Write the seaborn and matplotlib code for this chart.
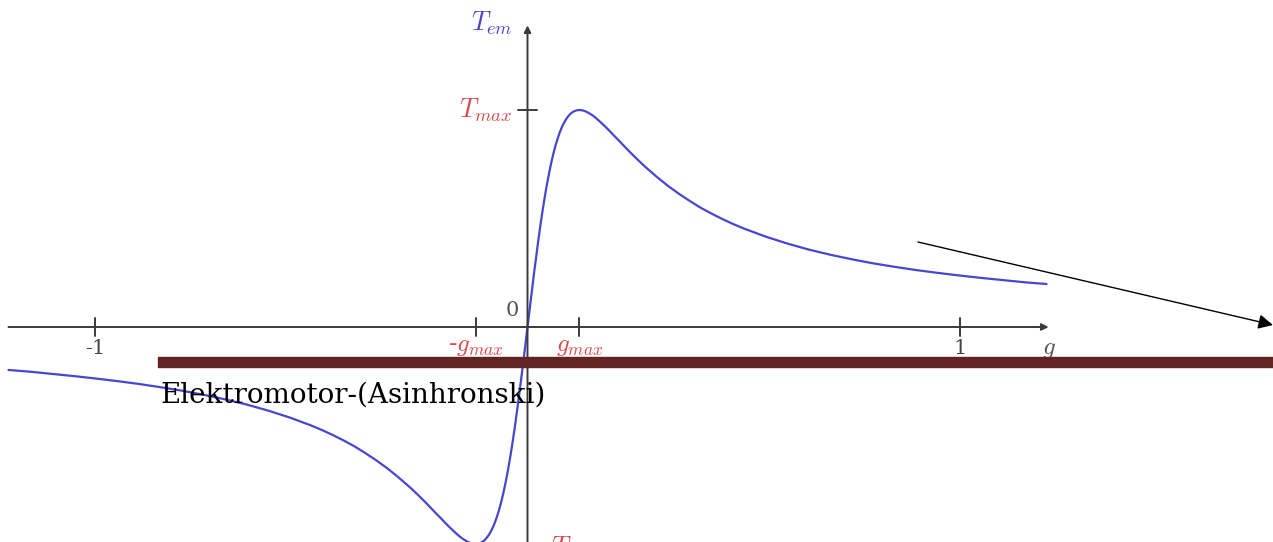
import matplotlib
matplotlib.use("Agg")
import matplotlib.pyplot as plt
import seaborn as sns
import pandas as pd

# Slip (g) and electromagnetic torque (T_em / T_max), motoring branch (g >= 0)
slip_pos = [0.000, 0.005, 0.010, 0.015, 0.020, 0.025, 0.030, 0.035, 0.040,
            0.045, 0.050, 0.055, 0.060, 0.065, 0.070, 0.075, 0.080, 0.085,
            0.090, 0.095, 0.100, 0.105, 0.110, 0.115, 0.120, 0.125, 0.130,
            0.135, 0.140, 0.145, 0.150, 0.155, 0.160, 0.170, 0.180, 0.190,
            0.200, 0.210, 0.220, 0.230, 0.250, 0.270, 0.300, 0.325, 0.350,
            0.375, 0.400, 0.425, 0.450, 0.475, 0.500, 0.550, 0.600, 0.650,
            0.700, 0.750, 0.800, 0.850, 0.900, 0.950, 1.000, 1.050, 1.100,
            1.150, 1.200]
torque_pos = [0.000, 0.083, 0.166, 0.246, 0.324, 0.399, 0.471, 0.538, 0.600,
              0.658, 0.710, 0.758, 0.800, 0.838, 0.870, 0.899, 0.923, 0.943,
              0.960, 0.973, 0.984, 0.991, 0.996, 0.999, 1.000, 0.999, 0.997,
              0.993, 0.988, 0.982, 0.976, 0.968, 0.960, 0.942, 0.923, 0.903,
              0.882, 0.862, 0.841, 0.820, 0.780, 0.742, 0.690, 0.650, 0.614,
              0.581, 0.550, 0.523, 0.498, 0.475, 0.454, 0.417, 0.385, 0.357,
              0.333, 0.312, 0.293, 0.277, 0.262, 0.249, 0.237, 0.226, 0.216,
              0.206, 0.198]

# Generating branch (g < 0)
slip_neg = [-1.200, -1.150, -1.100, -1.050, -1.000, -0.950, -0.900, -0.850,
            -0.800, -0.750, -0.700, -0.650, -0.600, -0.550, -0.500, -0.475,
            -0.450, -0.425, -0.400, -0.375, -0.350, -0.325, -0.300, -0.270,
            -0.250, -0.230, -0.220, -0.210, -0.200, -0.190, -0.180, -0.170,
            -0.160, -0.155, -0.150, -0.145, -0.140, -0.135, -0.130, -0.125,
            -0.120, -0.115, -0.110, -0.105, -0.100, -0.095, -0.090, -0.085,
            -0.080, -0.075, -0.070, -0.065, -0.060, -0.055, -0.050, -0.045,
            -0.040, -0.035, -0.030, -0.025, -0.020, -0.015, -0.010, -0.005]
torque_neg = [-0.198, -0.206, -0.216, -0.226, -0.237, -0.249, -0.262, -0.277,
              -0.293, -0.312, -0.333, -0.357, -0.385, -0.417, -0.454, -0.475,
              -0.498, -0.523, -0.550, -0.581, -0.614, -0.650, -0.690, -0.742,
              -0.780, -0.820, -0.841, -0.862, -0.882, -0.903, -0.923, -0.942,
              -0.960, -0.968, -0.976, -0.982, -0.988, -0.993, -0.997, -0.999,
              -1.000, -0.999, -0.996, -0.991, -0.984, -0.973, -0.960, -0.943,
              -0.923, -0.899, -0.870, -0.838, -0.800, -0.758, -0.710, -0.658,
              -0.600, -0.538, -0.471, -0.399, -0.324, -0.246, -0.166, -0.083]

g_max = 0.12
x_tick_values = [-1.0, -g_max, g_max, 1.0]
x_tick_labels = ["-1", r"-$g_{max}$", r"$g_{max}$", "1"]
x_tick_sizes = [15, 18, 18, 15]
x_tick_offsets = [-0.055, -0.036, -0.036, -0.055]
x_tick_colors = ["#444444", "#d94a4a", "#d94a4a", "#444444"]
caption = "Elektromotor-(Asinhronski)"

sns.set_theme(style="white")
plt.rcParams["mathtext.fontset"] = "cm"
plt.rcParams["font.family"] = ["DejaVu Serif", "DejaVu Sans"]

W, H = 1273, 542
fig = plt.figure(figsize=(W / 100, H / 100), dpi=100)
ax = fig.add_axes([0, 0, 1, 1])

df = pd.DataFrame({"g": slip_neg + slip_pos, "T": torque_neg + torque_pos})
sns.lineplot(data=df, x="g", y="T", ax=ax, color="#4646d2", linewidth=1.6,
             sort=False)

ox, unit_x = 527.5, 432.5
oy, unit_y = 327.0, 217.0
ax.set_xlim(-ox / unit_x, (W - ox) / unit_x)
ax.set_ylim((oy - H) / unit_y, oy / unit_y)
ax.set_axis_off()

axis_col = "#3a3a3a"
# horizontal axis with arrow
ax.annotate("", xy=(1.205, 0), xytext=(-1.20, 0),
            arrowprops=dict(arrowstyle="-|>", color=axis_col, lw=1.4,
                            mutation_scale=10, shrinkA=0, shrinkB=0))
# vertical axis with arrow
ax.annotate("", xy=(0, 1.39), xytext=(0, -1.1),
            arrowprops=dict(arrowstyle="-|>", color=axis_col, lw=1.4,
                            mutation_scale=10, shrinkA=0, shrinkB=0))

tick_h = 0.04
for xv, lab, fs, dy, col in zip(x_tick_values, x_tick_labels, x_tick_sizes,
                                x_tick_offsets, x_tick_colors):
    ax.plot([xv, xv], [-tick_h, tick_h], color=axis_col, lw=1.4)
    ax.text(xv, dy, lab, ha="center", va="top", color=col, fontsize=fs,
            zorder=6)

ax.plot([-0.022, 0.022], [1.0, 1.0], color=axis_col, lw=1.4)
ax.text(-0.035, 1.0, r"$T_{max}$", ha="right", va="center", color="#d94a4a",
        fontsize=19)
ax.text(0.035, -1.02, r"-$T_{max}$", ha="left", va="center", color="#d94a4a",
        fontsize=19)
ax.text(-0.035, 1.40, r"$T_{em}$", ha="right", va="center", color="#4646d2",
        fontsize=19)
ax.text(-0.02, 0.03, "0", ha="right", va="bottom", color="#555555",
        fontsize=15)
ax.text(1.205, -0.05, r"$g$", ha="center", va="top", color="#555555",
        fontsize=18)

# caption bar, caption text and pointer arrow (figure pixel coordinates)
fig.patches.append(plt.Rectangle((158, H - 367), W - 158, 10,
                                 transform=None, color="#622423", zorder=5))
fig.text(160 / W, 1 - 395 / H, caption, ha="left", va="center",
         fontsize=20, color="black", family="DejaVu Serif")
fig.add_artist(matplotlib.patches.FancyArrowPatch(
    (918, H - 242), (1273, H - 325), transform=None,
    arrowstyle="-|>", mutation_scale=22, color="black", lw=1.0,
    shrinkA=0, shrinkB=0))

fig.savefig("out.png", dpi=100)
